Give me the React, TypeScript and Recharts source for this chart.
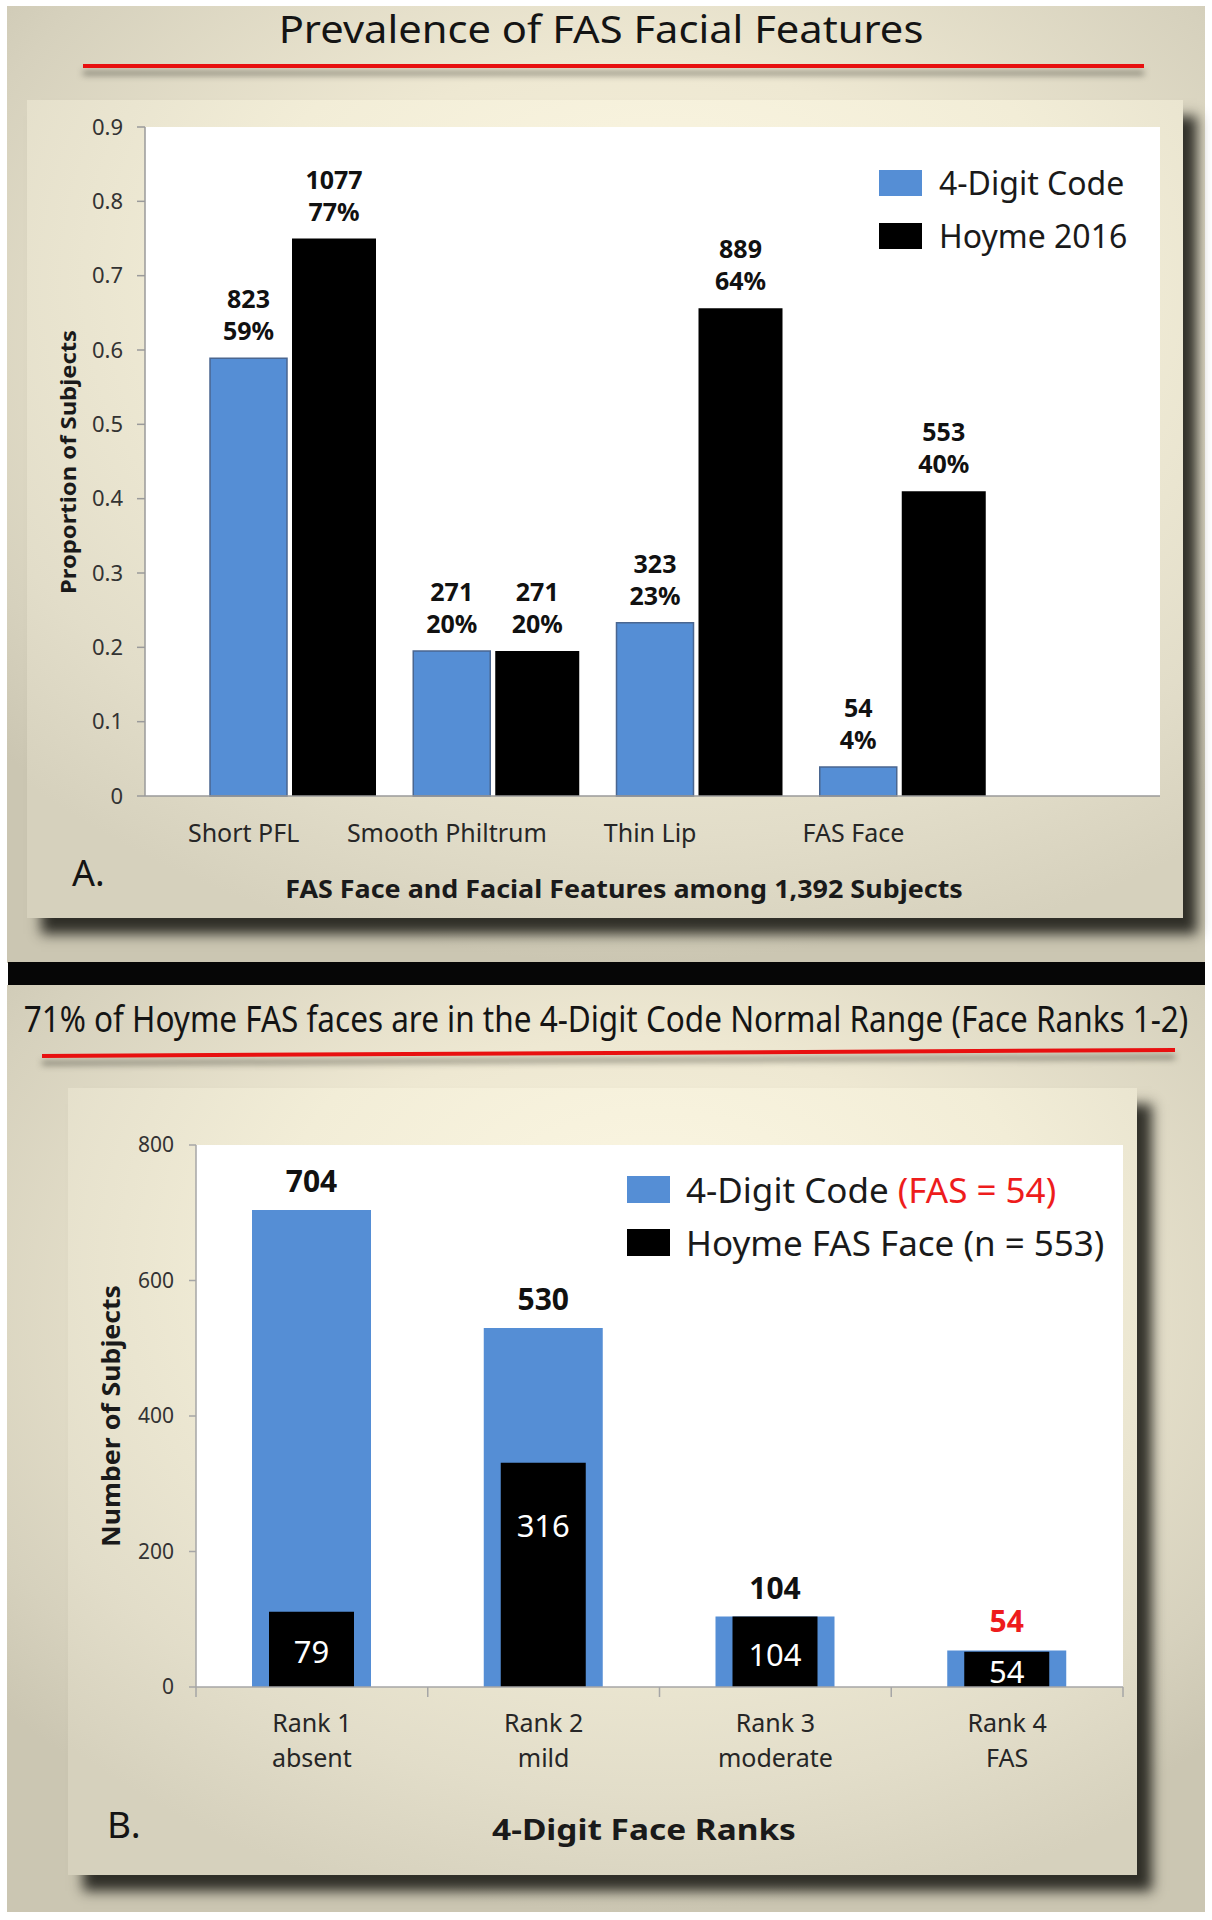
import React, { useLayoutEffect, useRef, useState } from "react";
import { BarChart, Bar, XAxis, YAxis, CartesianGrid, Legend, LabelList } from "recharts";

const FONT = "'Noto Sans', sans-serif";
const BLUE = "#558ED5";
const RED = "#ee1c1c";

// Panel A: prevalence of facial features (proportion of 1,392 subjects)
const featureNames = ["Short PFL", "Smooth Philtrum", "Thin Lip", "FAS Face"];
const fourDigitShare = [0.589, 0.195, 0.233, 0.039];
const hoymeShare = [0.75, 0.195, 0.656, 0.41];
const fourDigitCountLabels = ["823", "271", "323", "54"];
const fourDigitPctLabels = ["59%", "20%", "23%", "4%"];
const hoymeCountLabels = ["1077", "271", "889", "553"];
const hoymePctLabels = ["77%", "20%", "64%", "40%"];
const shareTicks = [0, 0.1, 0.2, 0.3, 0.4, 0.5, 0.6, 0.7, 0.8, 0.9];

// Panel B: 4-digit face ranks
const rankNames = ["Rank 1", "Rank 2", "Rank 3", "Rank 4"];
const rankDescriptors = ["absent", "mild", "moderate", "FAS"];
const fourDigitRankCounts = [704, 530, 104, 54];
const hoymeRankHeights = [111, 331, 104, 52];
const hoymeRankLabels = ["79", "316", "104", "54"];
const subjectTicks = [0, 200, 400, 600, 800];

const featureData = featureNames.map((name, i) => ({
  name,
  fourDigit: fourDigitShare[i],
  hoyme: hoymeShare[i],
}));

const rankData = rankNames.map((name, i) => ({
  name,
  fourDigit: fourDigitRankCounts[i],
  hoyme: hoymeRankHeights[i],
}));

const RANK_BAND = (1123 - 196) / rankNames.length;

function box(p: any) {
  const vb = p.viewBox || {};
  return {
    x: Number(p.x ?? vb.x),
    y: Number(p.y ?? vb.y),
    width: Number(p.width ?? vb.width),
    height: Number(p.height ?? vb.height),
  };
}

// squeezes a centred title horizontally to a given width
function FitText({ x, y, width, children, ...rest }: any) {
  const ref = useRef<SVGTextElement>(null);
  const [sx, setSx] = useState(1);
  useLayoutEffect(() => {
    if (ref.current) {
      const w = ref.current.getComputedTextLength();
      if (w > 0) setSx(width / w);
    }
  }, [width]);
  return (
    <text ref={ref} transform={`translate(${x},${y}) scale(${sx},1)`} textAnchor="middle" {...rest}>
      {children}
    </text>
  );
}

function twoLineLabel(counts: string[], pcts: string[]) {
  return (p: any) => {
    const { x, y, width } = box(p);
    const i = featureNames.indexOf(p.value);
    const cx = x + width / 2;
    return (
      <text textAnchor="middle" fontFamily={FONT} fontWeight={700} fontSize={25} fill="#111">
        <tspan x={cx} y={y - 50}>{counts[i]}</tspan>
        <tspan x={cx} y={y - 18}>{pcts[i]}</tspan>
      </text>
    );
  };
}

function codeRankLabel(p: any) {
  const { x, y, width } = box(p);
  const i = rankNames.indexOf(p.value);
  return (
    <text
      x={x + width / 2}
      y={y - 18}
      textAnchor="middle"
      fontFamily={FONT}
      fontWeight={700}
      fontSize={30}
      fill={i === rankNames.length - 1 ? RED : "#111"}
    >
      {fourDigitRankCounts[i]}
    </text>
  );
}

function hoymeRankLabel(p: any) {
  const { x, y, width, height } = box(p);
  const i = rankNames.indexOf(p.value);
  const cy = Math.min(y + height / 2 + 4, y + 64);
  return (
    <text x={x + width / 2} y={cy + 10} textAnchor="middle" fontFamily={FONT} fontSize={31} fill="#fff">
      {hoymeRankLabels[i]}
    </text>
  );
}

function FeatureTick(p: any) {
  return (
    <text x={p.x - 49} y={p.y + 46} textAnchor="middle" fontFamily={FONT} fontSize={25} fill="#262626">
      {p.payload.value}
    </text>
  );
}

function RankTick(p: any) {
  const i = rankNames.indexOf(p.payload.value);
  const left = p.x - RANK_BAND / 2;
  return (
    <g>
      <line x1={left} x2={left} y1={p.y} y2={p.y + 10} stroke="#a6a6a6" strokeWidth={1.5} />
      {i === rankNames.length - 1 && (
        <line x1={left + RANK_BAND} x2={left + RANK_BAND} y1={p.y} y2={p.y + 10} stroke="#a6a6a6" strokeWidth={1.5} />
      )}
      <text textAnchor="middle" fontFamily={FONT} fontSize={25} fill="#262626">
        <tspan x={p.x} y={p.y + 45}>{p.payload.value}</tspan>
        <tspan x={p.x} y={p.y + 80}>{rankDescriptors[i]}</tspan>
      </text>
    </g>
  );
}

function LegendA(p: any) {
  const colors = [BLUE, "#000"];
  return (
    <div style={{ fontFamily: FONT }}>
      {(p.payload || []).map((e: any, i: number) => (
        <div key={i} style={{ display: "flex", alignItems: "center", height: 53 }}>
          <span style={{ display: "inline-block", width: 43, height: 26, background: colors[i], marginRight: 17 }} />
          <span style={{ fontSize: 32, color: "#1a1a1a", lineHeight: 1, whiteSpace: "nowrap" }}>{e.value}</span>
        </div>
      ))}
    </div>
  );
}

function LegendB(p: any) {
  const colors = [BLUE, "#000"];
  return (
    <div style={{ fontFamily: FONT }}>
      {(p.payload || []).map((e: any, i: number) => (
        <div key={i} style={{ display: "flex", alignItems: "center", height: 53 }}>
          <span style={{ display: "inline-block", width: 43, height: 27, background: colors[i], marginRight: 16 }} />
          <span style={{ fontSize: 35, color: "#1a1a1a", lineHeight: 1, whiteSpace: "nowrap" }}>
            {e.value}
            {i === 0 && <span style={{ color: RED }}> (FAS = 54)</span>}
          </span>
        </div>
      ))}
    </div>
  );
}

const slideBg =
  "radial-gradient(ellipse 70% 65% at 52% 35%, #f8f3de 0%, #eee8d2 45%, #d6d1bd 85%, #cbc6b2 100%)";
const cardBg =
  "radial-gradient(ellipse 80% 85% at 55% 22%, #fcf7e3 0%, #f2edd7 45%, #e2ddc9 80%, #d6d1bd 100%)";

export default function App() {
  return (
    <div style={{ position: "absolute", left: 0, top: 0, width: 1212, height: 1920, background: "#fff", fontFamily: FONT, overflow: "hidden" }}>
      {/* slides */}
      <div style={{ position: "absolute", left: 7, top: 6, width: 1198, height: 957, background: slideBg }} />
      <div style={{ position: "absolute", left: 7, top: 985, width: 1198, height: 927, background: slideBg }} />
      <div style={{ position: "absolute", left: 8, top: 962, width: 1197, height: 23, background: "#060606" }} />

      {/* red rules under titles */}
      <div style={{ position: "absolute", left: 83, top: 64, width: 1061, height: 4, background: "#e81010", boxShadow: "0 7px 6px rgba(70,70,60,0.65)" }} />
      <div
        style={{
          position: "absolute",
          left: 42,
          top: 1051,
          width: 1133,
          height: 4,
          background: "#e81010",
          transform: "rotate(-0.3deg)",
          boxShadow: "0 7px 6px rgba(70,70,60,0.65)",
        }}
      />

      {/* cards */}
      <div style={{ position: "absolute", left: 27, top: 100, width: 1156, height: 818, background: cardBg, boxShadow: "14px 16px 12px rgba(20,20,15,0.85)" }} />
      <div style={{ position: "absolute", left: 68, top: 1088, width: 1069, height: 787, background: cardBg, boxShadow: "15px 16px 12px rgba(20,20,15,0.85)" }} />

      {/* Panel A chart */}
      <div style={{ position: "absolute", left: 0, top: 0 }}>
        <BarChart width={1212} height={960} data={featureData} margin={{ top: 127, right: 52, bottom: 124, left: 85 }} barGap={5}>
          <CartesianGrid fill="#fff" stroke="none" horizontal={false} vertical={false} />
          <XAxis
            dataKey="name"
            padding={{ left: 46, right: 156 }}
            height={40}
            tickSize={0}
            tickMargin={0}
            interval={0}
            tick={<FeatureTick />}
            axisLine={{ stroke: "#9a9a9a", strokeWidth: 1.5 }}
          />
          <YAxis
            domain={[0, 0.9]}
            ticks={shareTicks}
            width={60}
            tickSize={8}
            tickMargin={14}
            interval={0}
            axisLine={{ stroke: "#9a9a9a", strokeWidth: 1.5 }}
            tickLine={{ stroke: "#9a9a9a", strokeWidth: 1.5 }}
            tick={{ fontSize: 22, fill: "#333", fontFamily: FONT }}
            tickFormatter={(v: number) => String(v)}
          />
          <Legend
            layout="vertical"
            align="center"
            verticalAlign="middle"
            content={<LegendA />}
            wrapperStyle={{ left: 879, top: 156, width: 320 }}
          />
          <Bar dataKey="fourDigit" name="4-Digit Code" fill={BLUE} stroke="#4a6690" strokeWidth={1.5} barSize={77} isAnimationActive={false}>
            <LabelList dataKey="name" content={twoLineLabel(fourDigitCountLabels, fourDigitPctLabels)} />
          </Bar>
          <Bar dataKey="hoyme" name="Hoyme 2016" fill="#000" barSize={84} isAnimationActive={false}>
            <LabelList dataKey="name" content={twoLineLabel(hoymeCountLabels, hoymePctLabels)} />
          </Bar>
        </BarChart>
      </div>

      {/* Panel B chart */}
      <div style={{ position: "absolute", left: 0, top: 985 }}>
        <BarChart width={1212} height={935} data={rankData} margin={{ top: 160, right: 89, bottom: 193, left: 136 }}>
          <CartesianGrid fill="#fff" stroke="none" horizontal={false} vertical={false} />
          <XAxis
            dataKey="name"
            height={40}
            tickSize={0}
            tickMargin={0}
            interval={0}
            tick={<RankTick />}
            axisLine={{ stroke: "#a6a6a6", strokeWidth: 1.5 }}
          />
          <XAxis xAxisId="hoyme" dataKey="name" hide />
          <YAxis
            domain={[0, 800]}
            ticks={subjectTicks}
            width={60}
            tickSize={7}
            tickMargin={15}
            interval={0}
            axisLine={{ stroke: "#a6a6a6", strokeWidth: 1.5 }}
            tickLine={{ stroke: "#a6a6a6", strokeWidth: 1.5 }}
            tick={{ fontSize: 21, fill: "#333", fontFamily: FONT }}
          />
          <Legend
            layout="vertical"
            align="center"
            verticalAlign="middle"
            content={<LegendB />}
            wrapperStyle={{ left: 627, top: 178, width: 520 }}
          />
          <Bar dataKey="fourDigit" name="4-Digit Code" fill={BLUE} barSize={119} isAnimationActive={false}>
            <LabelList dataKey="name" content={codeRankLabel} />
          </Bar>
          <Bar xAxisId="hoyme" dataKey="hoyme" name="Hoyme FAS Face (n = 553)" fill="#000" barSize={85} isAnimationActive={false}>
            <LabelList dataKey="name" content={hoymeRankLabel} />
          </Bar>
        </BarChart>
      </div>

      {/* titles and axis titles */}
      <svg width={1212} height={1920} style={{ position: "absolute", left: 0, top: 0, pointerEvents: "none" }} fontFamily={FONT}>
        <FitText x={601} y={43} width={645} fontSize={38} fill="#141414">
          Prevalence of FAS Facial Features
        </FitText>
        <FitText x={606} y={1032} width={1165} fontSize={37} fill="#141414">
          71% of Hoyme FAS faces are in the 4-Digit Code Normal Range (Face Ranks 1-2)
        </FitText>
        <FitText x={624} y={898} width={678} fontSize={25} fontWeight={700} fill="#1a1a1a">
          FAS Face and Facial Features among 1,392 Subjects
        </FitText>
        <FitText x={644} y={1840} width={304} fontSize={29} fontWeight={700} fill="#1a1a1a">
          4-Digit Face Ranks
        </FitText>
        <text x={72} y={886} fontSize={36} fill="#141414">A.</text>
        <text x={107} y={1838} fontSize={37} fill="#141414">B.</text>
        <text transform="translate(76,462) rotate(-90)" textAnchor="middle" fontSize={21} fontWeight={700} fill="#1a1a1a" textLength={264} lengthAdjust="spacingAndGlyphs">
          Proportion of Subjects
        </text>
        <text transform="translate(120,1416) rotate(-90)" textAnchor="middle" fontSize={25} fontWeight={700} fill="#1a1a1a" textLength={262} lengthAdjust="spacingAndGlyphs">
          Number of Subjects
        </text>
      </svg>
    </div>
  );
}
